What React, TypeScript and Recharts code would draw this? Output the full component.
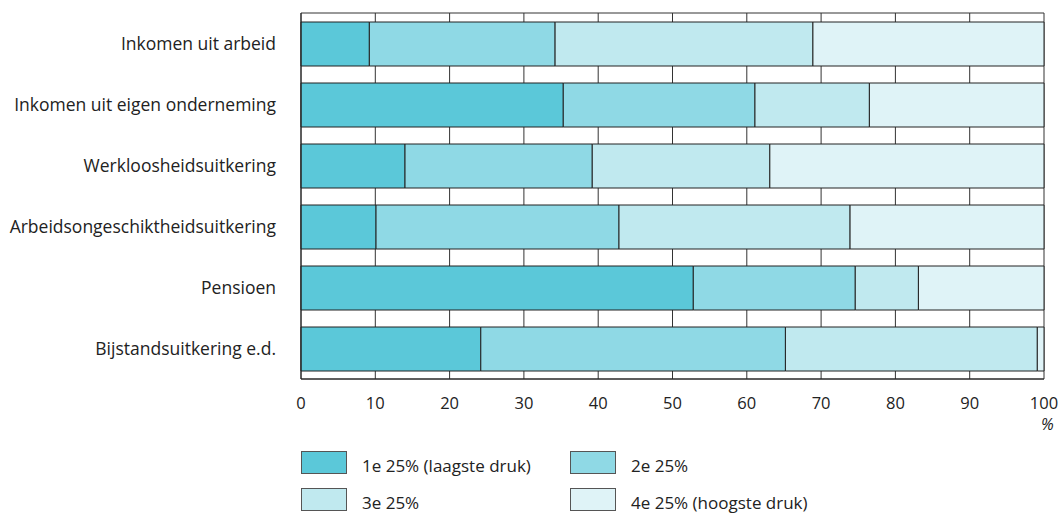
import { BarChart, Bar, XAxis, YAxis, CartesianGrid } from "recharts";

const categories = [
  "Inkomen uit arbeid",
  "Inkomen uit eigen onderneming",
  "Werkloosheidsuitkering",
  "Arbeidsongeschiktheidsuitkering",
  "Pensioen",
  "Bijstandsuitkering e.d.",
];
const q1 = [9.2, 35.3, 14.0, 10.1, 52.8, 24.2];
const q2 = [25.0, 25.8, 25.2, 32.7, 21.8, 41.0];
const q3 = [34.7, 15.4, 23.9, 31.1, 8.5, 33.9];
const q4 = [31.1, 23.5, 36.9, 26.1, 16.9, 0.9];
const xTicks = [0, 10, 20, 30, 40, 50, 60, 70, 80, 90, 100];

const seriesNames = ["1e 25% (laagste druk)", "2e 25%", "3e 25%", "4e 25% (hoogste druk)"];
const colors = ["#5bc8d9", "#8fd9e5", "#c0e9ef", "#dff3f7"];

const data = categories.map((name, i) => ({
  name,
  q1: q1[i],
  q2: q2[i],
  q3: q3[i],
  q4: q4[i],
}));

const font = "'Open Sans', sans-serif";
const ink = "#222";

export default function App() {
  const keys = ["q1", "q2", "q3", "q4"];
  // legend placed in a 2x2 grid under the axis
  const legendPos = [
    { left: 301, top: 451 },
    { left: 570, top: 451 },
    { left: 301, top: 488 },
    { left: 570, top: 488 },
  ];

  return (
    <div
      style={{
        position: "fixed",
        left: 0,
        top: 0,
        width: 1060,
        height: 514,
        background: "#fff",
        fontFamily: font,
        color: ink,
        overflow: "hidden",
      }}
    >
      <BarChart
        width={1060}
        height={420}
        data={data}
        layout="vertical"
        barSize={44}
        margin={{ top: 13, right: 16, bottom: 0, left: 0 }}
      >
        <CartesianGrid
          stroke="#333"
          strokeWidth={1}
          horizontalCoordinatesGenerator={({ offset }: any) => [offset.top, offset.top + offset.height]}
        />
        <XAxis
          type="number"
          domain={[0, 100]}
          ticks={xTicks}
          interval={0}
          height={41}
          tickLine={false}
          tickSize={0}
          tickMargin={18}
          axisLine={{ stroke: ink }}
          tick={{ fill: ink, fontSize: 16.5, fontFamily: font }}
        />
        <YAxis
          type="category"
          dataKey="name"
          width={301}
          tickLine={false}
          tickSize={0}
          tickMargin={25}
          axisLine={{ stroke: ink }}
          tick={{ fill: ink, fontSize: 17.5, fontFamily: font }}
        />
        {keys.map((k, i) => (
          <Bar
            key={k}
            dataKey={k}
            name={seriesNames[i]}
            stackId="a"
            fill={colors[i]}
            stroke={ink}
            strokeWidth={1}
            isAnimationActive={false}
          />
        ))}
      </BarChart>
      <span
        style={{
          position: "absolute",
          left: 1041,
          top: 413,
          fontSize: 16,
          lineHeight: "22px",
          fontStyle: "italic",
        }}
      >
        %
      </span>
      {seriesNames.map((n, i) => (
        <div key={n}>
          <span
            style={{
              position: "absolute",
              left: legendPos[i].left,
              top: legendPos[i].top,
              width: 44,
              height: 21,
              background: colors[i],
              border: "1px solid #555",
            }}
          />
          <span
            style={{
              position: "absolute",
              left: legendPos[i].left + 61,
              top: legendPos[i].top + 4,
              fontSize: 17,
              lineHeight: "22px",
              whiteSpace: "nowrap",
            }}
          >
            {n}
          </span>
        </div>
      ))}
    </div>
  );
}
